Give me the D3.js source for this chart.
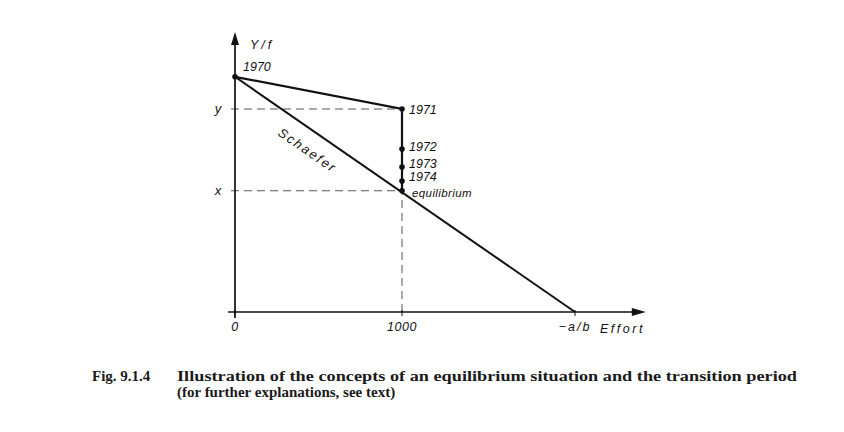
<!DOCTYPE html>
<html lang="en">
<head>
    <meta charset="UTF-8">
    <title>Equilibrium and transition period</title>
    <script src="https://cdnjs.cloudflare.com/ajax/libs/d3/7.8.5/d3.min.js"></script>
    <style>
        body {
            margin: 0;
            padding: 0;
            background-color: white;
        }
        .lbl {
            font-family: "Liberation Sans", Arial, sans-serif;
            font-style: italic;
            font-size: 12.5px;
            fill: #111;
        }
        .cap {
            font-family: "Liberation Serif", "Times New Roman", serif;
            font-weight: bold;
            font-size: 15px;
            fill: #1a1a1a;
        }
    </style>
</head>
<body>
    <div id="chart"></div>

    <script>
        // Trajectory of (effort, Y/f)
        const years = ['1970', '1971', '1972', '1973', '1974', 'equilibrium'];
        const effort = [0, 1000, 1000, 1000, 1000, 1000];
        const cpue = [84, 72.5, 58.2, 51.8, 46.8, 43.3];

        // Schaefer line: Y/f = a + b*f, zero at -a/b
        const schaeferA = 84;
        const schaeferZero = 2036;

        const xTicks = [0, 1000, schaeferZero];
        const xTickLabels = ['0', '1000', '\u2212a/b'];
        const yRefs = [72.5, 43.3];
        const yRefLabels = ['y', 'x'];

        const width = 844;
        const height = 432;

        const x = d3.scaleLinear().domain([0, 1000]).range([235, 402]);
        const y = d3.scaleLinear().domain([0, 100]).range([312, 32]);

        const svg = d3.select('#chart')
            .append('svg')
            .attr('width', width)
            .attr('height', height);

        // Dashed reference lines
        const dash = svg.append('g')
            .attr('stroke', '#555')
            .attr('stroke-width', 1)
            .attr('stroke-dasharray', '8,5')
            .attr('fill', 'none');

        yRefs.forEach(v => {
            dash.append('line')
                .attr('x1', x(0) - 4).attr('x2', x(1000))
                .attr('y1', y(v)).attr('y2', y(v));
        });
        dash.append('line')
            .attr('x1', x(1000)).attr('x2', x(1000))
            .attr('y1', y(0)).attr('y2', y(cpue[5]));

        // Axes
        const axes = svg.append('g')
            .attr('stroke', '#111')
            .attr('stroke-width', 1.7);
        axes.append('line')
            .attr('x1', x(0)).attr('x2', x(0))
            .attr('y1', y(0) + 6).attr('y2', y(100) + 6);
        axes.append('line')
            .attr('x1', x(0) - 7).attr('x2', x(2460) - 8)
            .attr('y1', y(0)).attr('y2', y(0));

        // Arrow heads
        svg.append('path')
            .attr('d', `M${x(0)},${y(100)} l-4,13 l8,0 z`)
            .attr('fill', '#111');
        svg.append('path')
            .attr('d', `M${x(2460)},${y(0)} l-14,-4 l0,8 z`)
            .attr('fill', '#111');

        // Tick marks
        axes.selectAll('.tick')
            .data(xTicks)
            .enter().append('line')
            .attr('stroke-width', 1)
            .attr('x1', d => x(d)).attr('x2', d => x(d))
            .attr('y1', y(0) - 2).attr('y2', y(0) + 4);

        // Schaefer line
        svg.append('line')
            .attr('stroke', '#111')
            .attr('stroke-width', 2)
            .attr('x1', x(0)).attr('y1', y(schaeferA))
            .attr('x2', x(schaeferZero)).attr('y2', y(0));

        // Trajectory
        const pts = years.map((d, i) => ({ label: d, f: effort[i], c: cpue[i] }));
        svg.append('path')
            .datum(pts)
            .attr('fill', 'none')
            .attr('stroke', '#111')
            .attr('stroke-width', 2.2)
            .attr('d', d3.line().x(d => x(d.f)).y(d => y(d.c)));

        svg.selectAll('.dot')
            .data(pts)
            .enter().append('circle')
            .attr('cx', d => x(d.f))
            .attr('cy', d => y(d.c))
            .attr('r', 2.8)
            .attr('fill', '#111');

        // Point labels
        const labelOffset = {
            '1970': [8, -6], '1971': [7, 5], '1972': [7, 2],
            '1973': [7, 1], '1974': [7, 0], 'equilibrium': [10, 6]
        };
        svg.selectAll('.plbl')
            .data(pts)
            .enter().append('text')
            .attr('class', 'lbl')
            .attr('x', d => x(d.f) + labelOffset[d.label][0])
            .attr('y', d => y(d.c) + labelOffset[d.label][1])
            .style('font-size', d => d.label === 'equilibrium' ? '11.5px' : '12.5px')
            .style('letter-spacing', d => d.label === 'equilibrium' ? '0.4px' : '0px')
            .text(d => d.label);

        // Schaefer label along the line, below it
        const ang = Math.atan2(y(0) - y(schaeferA), x(schaeferZero) - x(0)) * 180 / Math.PI;
        svg.append('text')
            .attr('class', 'lbl')
            .attr('text-anchor', 'middle')
            .attr('transform', `translate(305,154) rotate(${ang})`)
            .style('font-size', '13px')
            .style('letter-spacing', '2px')
            .text('Schaefer');

        // Axis labels
        svg.selectAll('.xt')
            .data(xTicks)
            .enter().append('text')
            .attr('class', 'lbl')
            .attr('text-anchor', 'middle')
            .attr('x', d => x(d))
            .attr('y', y(0) + 19)
            .style('letter-spacing', (d, i) => i === 2 ? '2px' : '0.5px')
            .text((d, i) => xTickLabels[i]);

        svg.selectAll('.yr')
            .data(yRefs)
            .enter().append('text')
            .attr('class', 'lbl')
            .attr('text-anchor', 'middle')
            .attr('x', 218)
            .attr('y', d => y(d) + 4)
            .style('font-size', '13px')
            .text((d, i) => yRefLabels[i]);

        svg.append('text')
            .attr('class', 'lbl')
            .attr('x', 250).attr('y', 49)
            .style('letter-spacing', '3px')
            .text('Y/f');

        svg.append('text')
            .attr('class', 'lbl')
            .attr('x', 600).attr('y', y(0) + 21)
            .style('letter-spacing', '2.5px')
            .text('Effort');

        // Caption
        svg.append('text').attr('class', 'cap')
            .attr('x', 92).attr('y', 381)
            .text('Fig. 9.1.4');
        svg.append('text').attr('class', 'cap')
            .attr('x', 177).attr('y', 381)
            .attr('textLength', 620).attr('lengthAdjust', 'spacingAndGlyphs')
            .text('Illustration of the concepts of an equilibrium situation and the transition period');
        svg.append('text').attr('class', 'cap')
            .attr('x', 177).attr('y', 397)
            .text('(for further explanations, see text)');
    </script>
</body>
</html>
